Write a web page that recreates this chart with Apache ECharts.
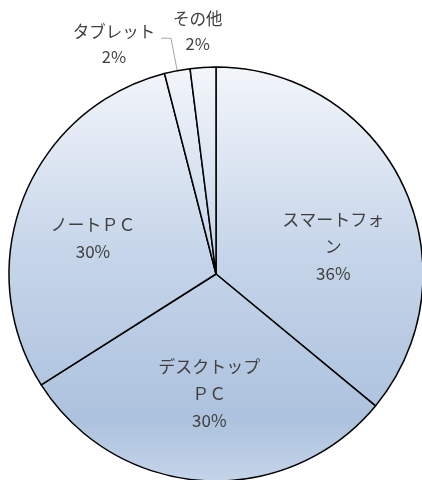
<!DOCTYPE html>
<html>
<head>
<meta charset="utf-8">
<script src="https://cdn.jsdelivr.net/npm/echarts@6/dist/echarts.min.js"></script>
<style>
html,body{margin:0;padding:0;background:#fff;}
#chart{width:422px;height:480px;}
</style>
</head>
<body>
<div id="chart"></div>
<script>
// data
var categories = ['スマートフォン', 'デスクトップＰＣ', 'ノートＰＣ', 'タブレット', 'その他'];
var labelTexts = ['スマートフォ\nン', 'デスクトップ\nＰＣ', 'ノートＰＣ', 'タブレット', 'その他'];
var values = [36, 30, 30, 2, 2];

// style / layout tweaks (not data)
var labelOffsets = [[21, 18], [0, 13], [-24, 3], [0, 6], [31, -16]];
var outsideWidths = [0, 0, 0, 84, 60];

var chart = echarts.init(document.getElementById('chart'), null, {renderer: 'canvas'});

var fill = {
  type: 'linear', x: 0, y: 67, x2: 0, y2: 481, global: true,
  colorStops: [
    {offset: 0, color: '#f3f6fb'},
    {offset: 0.45, color: '#c6d5e9'},
    {offset: 0.85, color: '#adc2de'},
    {offset: 1, color: '#c4d4e9'}
  ]
};

var data = categories.map(function (c, i) {
  var item = {name: c, value: values[i]};
  if (i >= 3) {
    item.label = {
      position: 'outside',
      formatter: function (p) {
        return '{a|' + labelTexts[p.dataIndex] + '}\n{a|' + p.percent.toFixed(0) + '%}';
      },
      rich: {a: {width: outsideWidths[i], align: 'center', fontSize: 16.5, lineHeight: 25, color: '#404040', fontFamily: 'Noto Sans CJK JP'}}
    };
    item.labelLine = {show: i === 3, length: i === 3 ? 33 : 20, length2: i === 3 ? 10 : 0,
      lineStyle: {color: '#a6a6a6', width: 1}};
  }
  return item;
});

chart.setOption({
  animation: false,
  backgroundColor: '#ffffff',
  series: [{
    type: 'pie',
    center: [216, 274],
    radius: 207,
    startAngle: 90,
    clockwise: true,
    avoidLabelOverlap: false,
    itemStyle: {color: fill, borderColor: '#000', borderWidth: 1.5},
    label: {
      position: 'inside',
      color: '#404040',
      fontSize: 17,
      lineHeight: 27,
      fontFamily: 'Noto Sans CJK JP',
      formatter: function (p) {
        return labelTexts[p.dataIndex] + '\n' + p.percent.toFixed(0) + '%';
      }
    },
    labelLayout: function (p) {
      var o = labelOffsets[p.dataIndex];
      return {dx: o[0], dy: o[1]};
    },
    emphasis: {disabled: true},
    data: data
  }]
});
</script>
</body>
</html>
